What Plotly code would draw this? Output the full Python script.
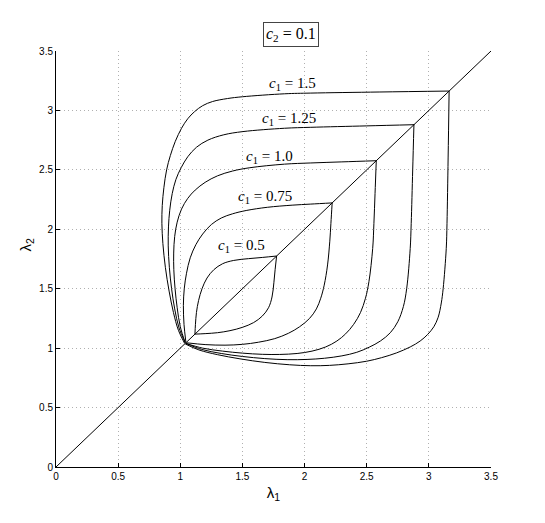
import plotly.graph_objects as go

# upper branch of each loop (lambda1, lambda2),
# going from the meeting point near (1, 1) out to the corner on the diagonal.
# the lower branch is the same curve mirrored in the diagonal.
c1_values = ["1.5", "1.25", "1.0", "0.75", "0.5"]

lam1_c15 = [1.035, 0.985, 0.945, 0.91, 0.88, 0.86, 0.852, 0.855, 0.868, 0.89, 0.92,
            0.96, 1.01, 1.06, 1.115, 1.18, 1.26, 1.38, 1.50, 1.84, 2.05, 2.6, 3.163]
lam2_c15 = [1.04, 1.15, 1.3, 1.48, 1.68, 1.88, 2.05, 2.2, 2.35, 2.5, 2.62,
            2.74, 2.85, 2.93, 2.99, 3.04, 3.075, 3.10, 3.115, 3.14, 3.146, 3.155, 3.163]

lam1_c125 = [1.04, 0.99, 0.955, 0.93, 0.912, 0.903, 0.905, 0.915, 0.935, 0.965, 1.008,
             1.06, 1.13, 1.222, 1.35, 1.504, 1.838, 2.05, 2.5, 2.882]
lam2_c125 = [1.045, 1.17, 1.33, 1.5, 1.68, 1.86, 2.02, 2.16, 2.3, 2.42, 2.52,
             2.61, 2.69, 2.75, 2.795, 2.822, 2.85, 2.858, 2.87, 2.88]

lam1_c10 = [1.04, 1.0, 0.975, 0.958, 0.948, 0.947, 0.955, 0.975, 1.01, 1.06,
            1.12, 1.2, 1.3, 1.42, 1.56, 1.838, 2.05, 2.3, 2.578]
lam2_c10 = [1.045, 1.18, 1.34, 1.5, 1.66, 1.8, 1.94, 2.06, 2.17, 2.26,
            2.33, 2.395, 2.45, 2.49, 2.518, 2.548, 2.558, 2.567, 2.577]

lam1_c075 = [1.045, 1.03, 1.025, 1.032, 1.05, 1.08, 1.125, 1.18, 1.25, 1.33,
             1.42, 1.53, 1.7, 1.9, 2.05, 2.224]
lam2_c075 = [1.05, 1.2, 1.36, 1.5, 1.63, 1.76, 1.87, 1.96, 2.04, 2.095,
             2.13, 2.158, 2.185, 2.203, 2.212, 2.222]

lam1_c05 = [1.118, 1.122, 1.13, 1.147, 1.175, 1.215, 1.27, 1.34,
            1.43, 1.55, 1.66, 1.775]
lam2_c05 = [1.118, 1.2, 1.3, 1.4, 1.5, 1.59, 1.66, 1.71,
            1.738, 1.753, 1.763, 1.775]

branches = [
    (lam1_c15, lam2_c15),
    (lam1_c125, lam2_c125),
    (lam1_c10, lam2_c10),
    (lam1_c075, lam2_c075),
    (lam1_c05, lam2_c05),
]

# label positions (lambda1, lambda2)
label_lam1 = [1.905, 1.873, 1.715, 1.68, 1.49]
label_lam2 = [3.22, 2.93, 2.607, 2.271, 1.86]

diag = [0, 3.5]
ticks = [0, 0.5, 1, 1.5, 2, 2.5, 3, 3.5]
tick_text = ["0", "0.5", "1", "1.5", "2", "2.5", "3", "3.5"]

fig = go.Figure()

# the diagonal lambda1 = lambda2
fig.add_trace(go.Scatter(x=diag, y=diag, mode="lines",
                         line=dict(color="black", width=1), hoverinfo="skip"))

for lam1, lam2 in branches:
    # upper branch
    fig.add_trace(go.Scatter(x=lam1, y=lam2, mode="lines",
                             line=dict(color="black", width=1, shape="spline", smoothing=1.0)))
    # lower branch, mirrored
    fig.add_trace(go.Scatter(x=lam2, y=lam1, mode="lines",
                             line=dict(color="black", width=1, shape="spline", smoothing=1.0)))

for c1, lx, ly in zip(c1_values, label_lam1, label_lam2):
    fig.add_annotation(x=lx, y=ly, text=f"<i>c</i><sub>1</sub> = {c1}", showarrow=False,
                       font=dict(family="Liberation Serif", size=15, color="black"))

fig.add_annotation(x=0.54, y=1, xref="paper", yref="paper", yanchor="bottom", yshift=4,
                   text="<i>c</i><sub>2</sub> = 0.1", showarrow=False,
                   font=dict(family="Liberation Serif", size=16, color="black"),
                   bordercolor="#444444", borderwidth=1, borderpad=2, bgcolor="white")

# y axis label, placed by hand like matlab's
fig.add_annotation(x=0, y=0.535, xref="paper", yref="paper", xanchor="center", xshift=-30,
                   text="λ<sub>2</sub>", textangle=-90, showarrow=False,
                   font=dict(family="Liberation Sans", size=15, color="black"))

axis_style = dict(
    range=[0, 3.5],
    tickvals=ticks,
    ticktext=tick_text,
    ticks="inside",
    ticklen=4,
    tickcolor="black",
    showline=True,
    linecolor="black",
    linewidth=1,
    mirror=False,
    showgrid=True,
    gridcolor="#b0b0b0",
    griddash="1px,3px",
    gridwidth=1,
    zeroline=False,
    automargin=False,
    tickfont=dict(family="Liberation Sans", size=10, color="black"),
)

fig.update_xaxes(**axis_style, title=dict(text="λ<sub>1</sub>", standoff=6,
                                          font=dict(family="Liberation Sans", size=15, color="black")))
fig.update_yaxes(**axis_style)

fig.update_layout(
    width=545,
    height=523,
    margin=dict(l=48, r=62, t=43, b=64),
    plot_bgcolor="white",
    paper_bgcolor="white",
    showlegend=False,
)

fig.write_html("out.html")
